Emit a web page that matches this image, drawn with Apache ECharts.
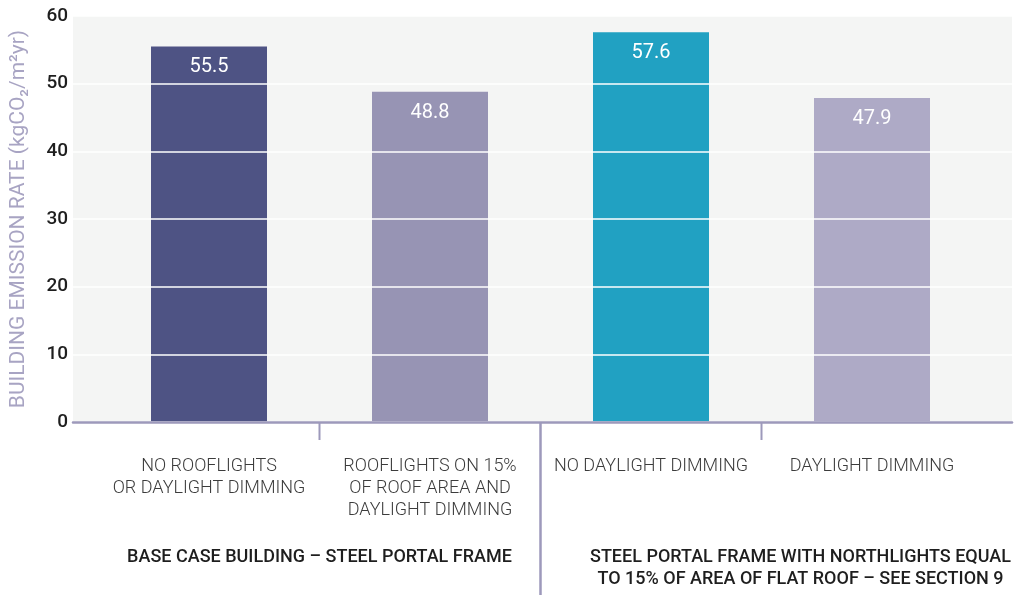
<!DOCTYPE html>
<html>
<head>
<meta charset="utf-8">
<script src="https://cdn.jsdelivr.net/npm/echarts@6/dist/echarts.min.js"></script>
<style>
html,body{margin:0;padding:0;background:#fff;}
#c{width:1015px;height:595px;}
</style>
</head>
<body>
<div id="c"></div>
<script>
// ---- data ----
const categories = [
  'NO ROOFLIGHTS\nOR DAYLIGHT DIMMING',
  'ROOFLIGHTS ON 15%\nOF ROOF AREA AND\nDAYLIGHT DIMMING',
  'NO DAYLIGHT DIMMING',
  'DAYLIGHT DIMMING'
];
const values = [55.5, 48.8, 57.6, 47.9];
const groupLabels = [
  'BASE CASE BUILDING – STEEL PORTAL FRAME',
  'STEEL PORTAL FRAME WITH NORTHLIGHTS EQUAL\nTO 15% OF AREA OF FLAT ROOF – SEE SECTION 9'
];
const groupSpans = [[0, 1], [2, 3]];
const yTicks = [0, 10, 20, 30, 40, 50, 60];
const yTitle = 'BUILDING EMISSION RATE (kgCO₂/m²yr)';

// ---- style ----
const barColors = ['#4e5384', '#9794b4', '#21a1c2', '#aeaac6'];
const axisColor = '#9d99bb';
const FONT = 'Roboto, "Noto Sans", sans-serif';

const chart = echarts.init(document.getElementById('c'), null, {renderer: 'canvas'});

const option = {
  animation: false,
  grid: [
    {left: 72, right: 3, top: 16, bottom: 173, show: true, backgroundColor: '#f4f5f4', borderWidth: 0},
    {left: 98.5, right: 32.5, top: 16, bottom: 173}
  ],
  xAxis: [
    {
      gridIndex: 0, type: 'category', data: [''], z: 10,
      axisLine: {show: true, lineStyle: {color: axisColor, width: 2.5}},
      axisTick: {show: false}, axisLabel: {show: false}, splitLine: {show: false}
    },
    {
      gridIndex: 1, type: 'category', data: categories,
      axisLine: {show: false}, axisTick: {show: false},
      axisLabel: {
        interval: 0, margin: 33, color: '#3c3c3c', fontFamily: FONT, fontSize: 18,
        fontWeight: 300, lineHeight: 22, verticalAlign: 'top'
      }
    }
  ],
  yAxis: [
    {
      gridIndex: 0, type: 'value', min: yTicks[0], max: yTicks[yTicks.length - 1], interval: 10, z: 10,
      name: yTitle, nameLocation: 'middle', nameGap: 44,
      nameTextStyle: {color: '#a8a4c3', fontFamily: FONT, fontSize: 21},
      axisLine: {show: false}, axisTick: {show: false},
      axisLabel: {color: '#1e1e1e', fontFamily: FONT, fontSize: 19, fontWeight: 500, margin: 5},
      splitLine: {show: true, lineStyle: {color: '#ffffff', width: 1.5}}
    },
    {
      gridIndex: 1, type: 'value', min: yTicks[0], max: yTicks[yTicks.length - 1], interval: 10,
      show: false, splitLine: {show: false}
    }
  ],
  series: [{
    type: 'bar',
    xAxisIndex: 1, yAxisIndex: 1,
    data: values,
    barWidth: 116,
    itemStyle: {color: (p) => barColors[p.dataIndex]},
    label: {
      show: true, position: 'insideTop', distance: 11, color: '#ffffff',
      fontFamily: FONT, fontSize: 20,
      formatter: (p) => p.value.toFixed(1)
    }
  }]
};
chart.setOption(option);

// separators & group labels positioned from the axis scales
const y0 = chart.convertToPixel({yAxisIndex: 1}, 0);
const cx = categories.map((c, i) => chart.convertToPixel({xAxisIndex: 1}, i));
const graphics = [];
for (let i = 0; i < categories.length - 1; i++) {
  const bx = (cx[i] + cx[i + 1]) / 2;
  const isGroupEdge = groupSpans.some(s => s[1] === i);
  graphics.push({
    type: 'line', z: 20,
    shape: {x1: bx, y1: y0, x2: bx, y2: isGroupEdge ? 595 : y0 + 18},
    style: {stroke: axisColor, lineWidth: isGroupEdge ? 2.5 : 2}
  });
}
const groupOffsets = [0, 39];
groupLabels.forEach((g, k) => {
  const s = groupSpans[k];
  const mid = (cx[s[0]] + cx[s[1]]) / 2 + groupOffsets[k];
  graphics.push({
    type: 'text', z: 20,
    x: mid, y: 546,
    style: {
      text: g, fill: '#1e1e1e', font: '500 18px ' + FONT,
      align: 'center', verticalAlign: 'top', lineHeight: 22
    }
  });
});
chart.setOption({graphic: graphics});
</script>
</body>
</html>
